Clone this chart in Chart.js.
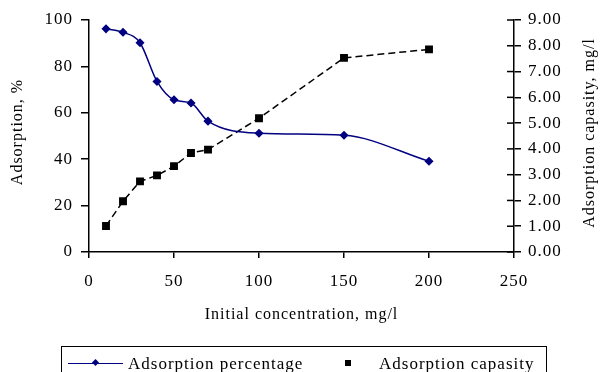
<!DOCTYPE html>
<html>
<head>
<meta charset="utf-8">
<script src="https://cdn.jsdelivr.net/npm/chart.js@4.4.1/dist/chart.umd.min.js"></script>
<style>
  body { margin: 0; background: #fff; }
  #wrap { position: relative; width: 601px; height: 372px; overflow: hidden; }
  #legend {
    position: absolute; left: 61px; top: 346px; width: 484px; height: 40px;
    border: 1px solid #000; font-family: "Liberation Serif", serif; font-size: 17px;
    letter-spacing: 1px; color: #000;
  }
  #legend span { position: absolute; }
</style>
</head>
<body>
<div id="wrap">
  <canvas id="chart" width="601" height="372"></canvas>
  <div id="legend">
    <span style="left:6px;top:16px;width:55px;height:0;border-top:1.5px solid #000080"></span>
    <span style="left:31px;top:13px;width:5px;height:5px;background:#000080;transform:rotate(45deg)"></span>
    <span style="left:66px;top:7px">Adsorption percentage</span>
    <span style="left:283px;top:13px;width:6px;height:6px;background:#000"></span>
    <span style="left:317px;top:7px">Adsorption capasity</span>
  </div>
</div>
<script>
// initial concentration, mg/l
const concentrations = [10, 20, 30, 40, 50, 60, 70, 100, 150, 200];
// adsorption, %
const adsorptionPercentage = [96.2, 94.7, 90.2, 73.5, 65.6, 64.2, 56.4, 51.2, 50.3, 39.1];
// adsorption capacity, mg/g
const adsorptionCapacity = [1.01, 1.97, 2.74, 2.97, 3.33, 3.84, 3.97, 5.19, 7.53, 7.86];

const xTickValues = [0, 50, 100, 150, 200, 250];
const leftTickValues = [0, 20, 40, 60, 80, 100];
const rightTickValues = [0, 1, 2, 3, 4, 5, 6, 7, 8, 9];

const FONT = '"Liberation Serif", serif';

// the original text is a bit spread out, so widen letters on the canvas too
const spacing = {
  id: "spacing",
  beforeUpdate(chart) { chart.ctx.letterSpacing = "1px"; },
  beforeDraw(chart) { chart.ctx.letterSpacing = "1px"; },
};

// axis titles drawn by hand so the right one reads bottom-to-top like the original
const axisTitles = {
  id: "axisTitles",
  afterDraw(chart) {
    const ctx = chart.ctx;
    const area = chart.chartArea;
    const yR = chart.scales.yRight;
    ctx.save();
    // inner half of the cross ticks on the right axis
    ctx.strokeStyle = "#000";
    ctx.lineWidth = 1.5;
    rightTickValues.forEach((v) => {
      const y = yR.getPixelForValue(v);
      ctx.beginPath();
      ctx.moveTo(area.right - 7, y);
      ctx.lineTo(area.right, y);
      ctx.stroke();
    });
    ctx.fillStyle = "#000";
    ctx.font = "16px " + FONT;
    ctx.letterSpacing = "1px";
    ctx.textAlign = "center";
    ctx.textBaseline = "middle";
    ctx.fillText("Initial concentration, mg/l", (area.left + area.right) / 2, 315);
    ctx.translate(18, 132);
    ctx.rotate(-Math.PI / 2);
    ctx.fillText("Adsorption, %", 0, 0);
    ctx.restore();
    ctx.save();
    ctx.fillStyle = "#000";
    ctx.font = "16px " + FONT;
    ctx.letterSpacing = "1px";
    ctx.textAlign = "center";
    ctx.textBaseline = "middle";
    ctx.translate(590, 133);
    ctx.rotate(-Math.PI / 2);
    ctx.fillText("Adsorption capasity, mg/l", 0, 0);
    ctx.restore();
  },
};

const ctx = document.getElementById("chart").getContext("2d");

new Chart(ctx, {
  type: "line",
  data: {
    datasets: [
      {
        label: "Adsorption percentage",
        data: concentrations.map((c, i) => ({ x: c, y: adsorptionPercentage[i] })),
        yAxisID: "yLeft",
        borderColor: "#000080",
        backgroundColor: "#000080",
        borderWidth: 1.5,
        pointStyle: "rectRot",
        pointRadius: 3.5,
        cubicInterpolationMode: "monotone",
      },
      {
        label: "Adsorption capasity",
        data: concentrations.map((c, i) => ({ x: c, y: adsorptionCapacity[i] })),
        yAxisID: "yRight",
        borderColor: "#000",
        backgroundColor: "#000",
        borderWidth: 1.5,
        borderDash: [7, 4],
        pointStyle: "rect",
        pointRadius: 4.5,
        tension: 0,
      },
    ],
  },
  options: {
    responsive: false,
    animation: false,
    layout: { padding: { top: 20, left: 0, right: 0, bottom: 0 } },
    plugins: { legend: { display: false }, tooltip: { enabled: false } },
    scales: {
      x: {
        type: "linear",
        min: 0,
        max: 250,
        afterBuildTicks: (s) => { s.ticks = xTickValues.map((v) => ({ value: v })); },
        afterFit: (s) => { s.height = 120; },
        grid: { drawOnChartArea: false, color: "#000", tickLength: 6, lineWidth: 1.5 },
        border: { color: "#000", width: 1.5 },
        ticks: { color: "#000", font: { family: FONT, size: 17 }, padding: 13, maxRotation: 0 },
      },
      yLeft: {
        position: "left",
        min: 0,
        max: 100,
        afterBuildTicks: (s) => { s.ticks = leftTickValues.map((v) => ({ value: v })); },
        afterFit: (s) => { s.width = 89; },
        grid: { drawOnChartArea: false, color: "#000", tickLength: 8, lineWidth: 1.5 },
        border: { color: "#000", width: 1.5 },
        ticks: { color: "#000", font: { family: FONT, size: 17 }, padding: 8 },
      },
      yRight: {
        position: "right",
        min: 0,
        max: 9,
        afterBuildTicks: (s) => { s.ticks = rightTickValues.map((v) => ({ value: v })); },
        afterFit: (s) => { s.width = 87; },
        grid: { drawOnChartArea: false, color: "#000", tickLength: 7, lineWidth: 1.5 },
        border: { color: "#000", width: 1.5 },
        ticks: {
          color: "#000",
          font: { family: FONT, size: 17 },
          padding: 7,
          callback: (v) => Number(v).toFixed(2),
        },
      },
    },
  },
  plugins: [spacing, axisTitles],
});
</script>
</body>
</html>
